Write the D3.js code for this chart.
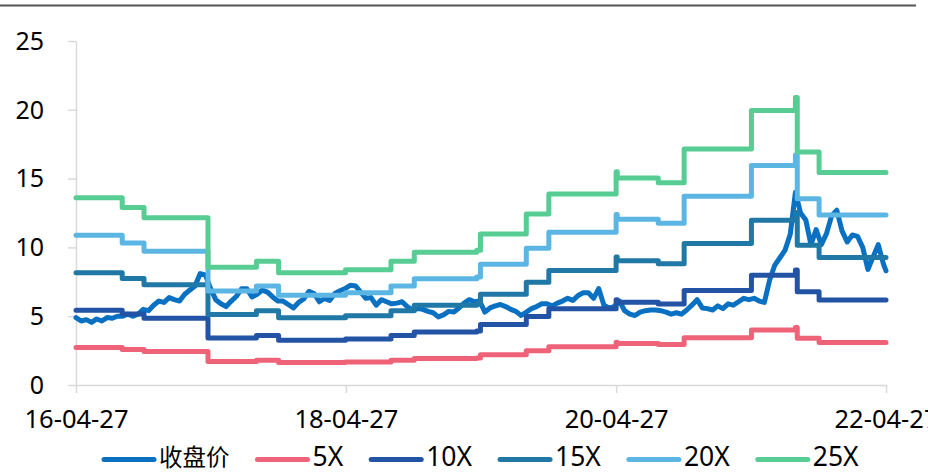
<!DOCTYPE html>
<html>
<head>
<meta charset="utf-8">
<script src="https://cdn.jsdelivr.net/npm/d3@7"></script>
<style>
  html, body { margin: 0; padding: 0; background: #fff; }
  svg { display: block; }
  text { font-family: "Noto Sans", "Open Sans", "Noto Sans CJK SC", sans-serif; fill: #000; }
</style>
</head>
<body>
<svg id="chart" width="928" height="472"></svg>
<script>
// ---------------- DATA ----------------
const seriesNames = ["收盘价", "5X", "10X", "15X", "20X", "25X"];
const seriesColors = ["#0a70c2", "#ef6379", "#2253a4", "#1f78a5", "#5cb6e4", "#57cc93"];

const yTickValues = [0, 5, 10, 15, 20, 25];
const xTickLabels = ["16-04-27", "18-04-27", "20-04-27", "22-04-27"];

// Close price, sampled every 14 days from 2016-04-27, last value on 2022-04-27
const closeStart = "2016-04-27";
const closeEnd = "2022-04-27";
const closeValues = [
  4.9, 4.65, 4.75, 4.55, 4.8, 4.65, 4.9, 4.85, 5.0, 5.0,
  5.15, 5.0, 5.15, 5.5, 5.4, 5.8, 6.1, 6.0, 6.35, 6.2,
  6.1, 6.6, 6.9, 7.2, 8.1, 8.0, 7.0, 6.2, 5.9, 5.7,
  6.1, 6.45, 7.0, 7.0, 6.4, 6.6, 6.9, 6.75, 6.4, 6.1,
  6.1, 5.85, 5.6, 6.0, 6.25, 6.8, 6.65, 6.05, 6.3, 6.15,
  6.65, 6.85, 7.0, 7.25, 7.2, 6.75, 6.3, 6.35, 5.8, 6.2,
  6.05, 5.9, 5.95, 6.05, 5.7, 5.45, 5.55, 5.5, 5.35, 5.25,
  4.95, 5.1, 5.35, 5.3, 5.6, 5.95, 6.2, 6.05, 6.1, 5.3,
  5.6, 5.75, 5.85, 5.7, 5.5, 5.35, 5.05, 5.3, 5.55, 5.7,
  5.9, 5.9, 5.75, 5.95, 6.1, 6.3, 6.15, 6.5, 6.7, 6.7,
  6.3, 7.0, 5.8, 5.6, 5.7, 6.1, 5.4, 5.15, 5.05, 5.3,
  5.4, 5.45, 5.45, 5.4, 5.3, 5.15, 5.25, 5.15, 5.45, 5.8,
  6.2, 5.6, 5.55, 5.45, 5.75, 5.55, 5.9, 5.8, 6.05, 6.3,
  6.2, 6.3, 6.1, 6.0, 7.6, 8.7, 9.25, 9.8, 10.95, 14.0,
  12.5, 12.0, 10.2, 11.3, 10.2, 11.0, 12.3, 12.7, 11.2, 10.4,
  10.9, 10.8, 10.0, 8.4, 9.3, 10.2, 8.8,
  8.3
];

// PE band step dates (each value holds from its date until the next one)
const bandDates = [
  "2016-04-27", "2016-08-30", "2016-10-28", "2017-04-19", "2017-08-28",
  "2017-10-27", "2018-04-26", "2018-08-27", "2018-10-29", "2019-04-16",
  "2019-04-26", "2019-08-28", "2019-10-28", "2020-04-27", "2020-04-30",
  "2020-08-19", "2020-10-28", "2021-04-28", "2021-08-25", "2021-08-30",
  "2021-10-28", "2022-04-27"
];
const band5X = [
  2.72, 2.58, 2.43, 1.71, 1.80, 1.63, 1.68, 1.80, 1.93, 1.96,
  2.20, 2.49, 2.78, 3.10, 3.01, 2.94, 3.43, 3.99, 4.18, 3.39,
  3.09, 3.09
];
const band10X = [
  5.44, 5.16, 4.86, 3.42, 3.60, 3.26, 3.35, 3.60, 3.86, 3.92,
  4.39, 4.97, 5.55, 6.20, 6.02, 5.88, 6.86, 7.98, 8.36, 6.77,
  6.18, 6.18
];
const band15X = [
  8.16, 7.74, 7.29, 5.13, 5.40, 4.89, 5.03, 5.40, 5.79, 5.88,
  6.59, 7.46, 8.33, 9.30, 9.03, 8.82, 10.29, 11.97, 12.54, 10.16,
  9.27, 9.27
];
const band20X = [
  10.88, 10.32, 9.72, 6.84, 7.20, 6.52, 6.70, 7.20, 7.72, 7.84,
  8.78, 9.94, 11.10, 12.40, 12.04, 11.76, 13.72, 15.96, 16.72, 13.54,
  12.36, 12.36
];
const band25X = [
  13.60, 12.90, 12.15, 8.55, 9.00, 8.15, 8.38, 9.00, 9.65, 9.80,
  10.98, 12.43, 13.88, 15.50, 15.05, 14.70, 17.15, 19.95, 20.90, 16.93,
  15.45, 15.45
];

// ---------------- CHART ----------------
const svg = d3.select("#chart");
const plot = { left: 76, right: 886, top: 41, bottom: 385 };

const parseISO = d3.timeParse("%Y-%m-%d");
const parseTick = d3.timeParse("%y-%m-%d");
const fmtTick = d3.timeFormat("%y-%m-%d");

const start = parseISO(closeStart), end = parseISO(closeEnd);
const closeDates = closeValues.slice(0, -1).map((_, i) => d3.timeDay.offset(start, 14 * i));
closeDates.push(end);
const closeData = closeValues.map((v, i) => ({ date: closeDates[i], value: v }));

const bDates = bandDates.map(parseISO);
const bands = [band5X, band10X, band15X, band20X, band25X].map(arr =>
  arr.map((v, i) => ({ date: bDates[i], value: v })));

const x = d3.scaleTime().domain([start, end]).range([plot.left, plot.right]);
const y = d3.scaleLinear().domain([0, 25]).range([plot.bottom, plot.top]);

// top border
svg.append("line")
  .attr("x1", 0).attr("x2", 916).attr("y1", 5.5).attr("y2", 5.5)
  .attr("stroke", "#555").attr("stroke-width", 2);

const latinFont = '"Noto Sans", "Open Sans", sans-serif';

// Y axis
const yAxis = svg.append("g")
  .attr("transform", `translate(${plot.left},0)`)
  .call(d3.axisLeft(y).tickValues(yTickValues).tickSize(8).tickSizeOuter(0).tickFormat(d3.format("d")));
yAxis.select(".domain").attr("stroke", "#d9d9d9").attr("stroke-width", 1.5);
yAxis.selectAll(".tick line").attr("stroke", "#d9d9d9").attr("stroke-width", 1.5);
yAxis.selectAll(".tick text")
  .attr("x", -32).attr("dy", "0.33em")
  .style("font-size", "25px").style("font-family", latinFont)
  .attr("fill", "#000");

// X axis
const xAxis = svg.append("g")
  .attr("transform", `translate(0,${plot.bottom})`)
  .call(d3.axisBottom(x).tickValues(xTickLabels.map(parseTick)).tickSize(8).tickSizeOuter(0).tickFormat(fmtTick));
xAxis.select(".domain").attr("stroke", "#d9d9d9").attr("stroke-width", 1.5);
xAxis.selectAll(".tick line").attr("stroke", "#d9d9d9").attr("stroke-width", 1.5);
xAxis.selectAll(".tick text")
  .attr("y", 43).attr("dy", 0)
  .style("font-size", "25.5px").style("font-family", latinFont)
  .attr("fill", "#000");

// lines
const closeLine = d3.line().x(d => x(d.date)).y(d => y(d.value)).curve(d3.curveLinear);
const stepLine = d3.line().x(d => x(d.date)).y(d => y(d.value)).curve(d3.curveStepAfter);

const lines = svg.append("g").attr("fill", "none")
  .attr("stroke-linecap", "round").attr("stroke-linejoin", "round");

lines.append("path").datum(closeData)
  .attr("d", closeLine)
  .attr("stroke", seriesColors[0]).attr("stroke-width", 5);

bands.forEach((b, i) => {
  lines.append("path").datum(b)
    .attr("d", stepLine)
    .attr("stroke", seriesColors[i + 1]).attr("stroke-width", 5);
});

// legend
const legend = svg.append("g");
let lx = 102;
const ly = 459.5;
seriesNames.forEach((name, i) => {
  legend.append("line")
    .attr("x1", lx + 2).attr("x2", lx + 52).attr("y1", ly).attr("y2", ly)
    .attr("stroke", seriesColors[i]).attr("stroke-width", 5).attr("stroke-linecap", "round");
  const isCJK = /[^\x00-\x7f]/.test(name);
  const t = legend.append("text")
    .attr("x", lx + 57).attr("y", 466)
    .style("font-size", isCJK ? "23.5px" : "26.5px")
    .style("font-family", isCJK ? '"Noto Sans CJK SC", sans-serif' : latinFont)
    .text(name);
  const w = t.node().getComputedTextLength();
  lx = lx + 57 + w + 26;
});
</script>
</body>
</html>
